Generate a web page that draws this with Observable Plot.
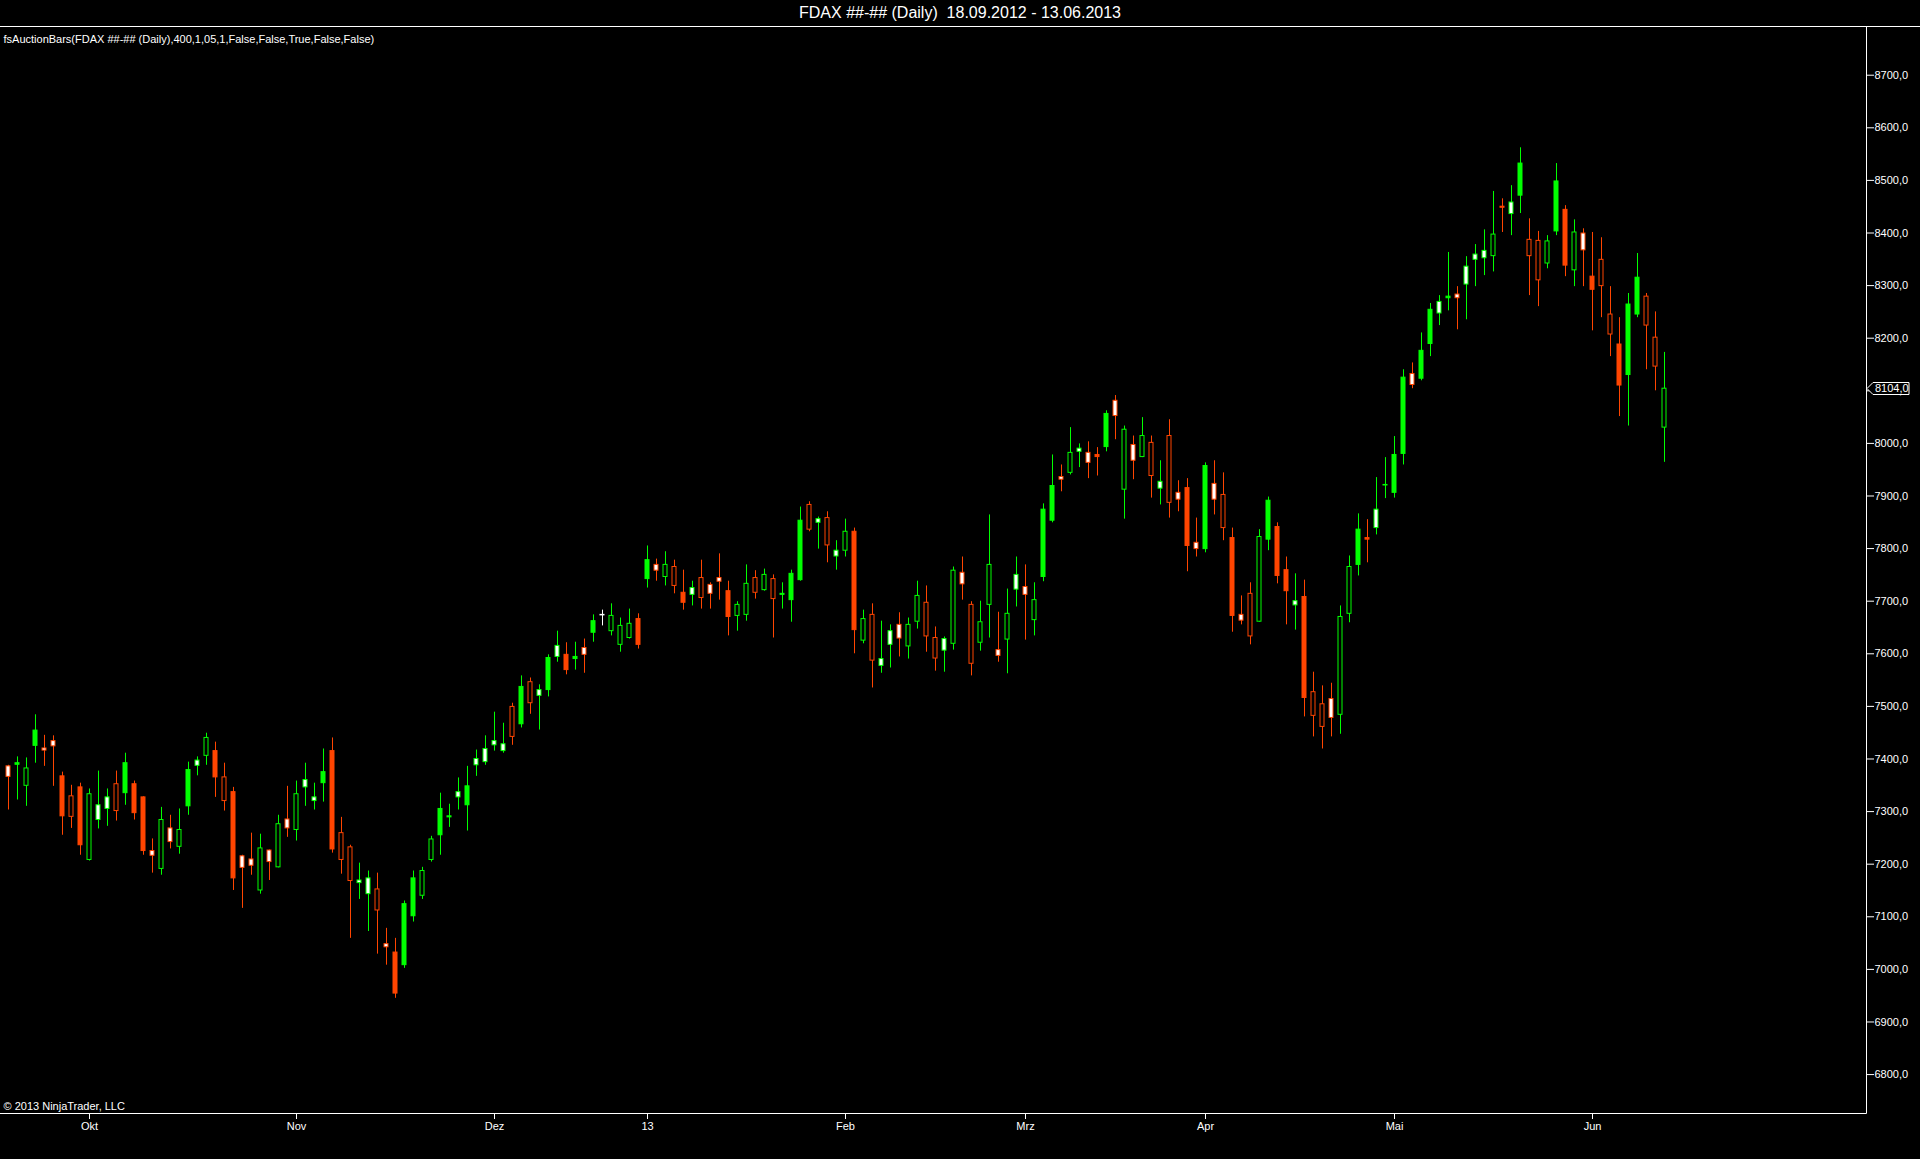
<!DOCTYPE html>
<html><head><meta charset="utf-8">
<script src="https://cdn.jsdelivr.net/npm/d3@7"></script>
<script src="https://cdn.jsdelivr.net/npm/@observablehq/plot@0.6"></script>
<style>
html,body{margin:0;padding:0;background:#000;overflow:hidden;}
#title{height:26px;border-bottom:1px solid #fff;color:#fff;font:16px "Liberation Sans",Arial,sans-serif;text-align:center;line-height:26px;white-space:pre;}
#chart svg{display:block;}
</style></head><body>
<div id="title">FDAX ##-## (Daily)  18.09.2012 - 13.06.2013</div>
<div id="chart"></div>
<script>
// Daily FDAX bars 18.09.2012 - 13.06.2013
const opens = [7386,7389,7349,7425,7420,7434,7367,7329,7346,7208,7284,7305,7352,7335,7352,7327,7225,7191,7268,7233,7310,7387,7406,
7415,7365,7337,7215,7209,7150,7226,7194,7285,7265,7346,7320,7354,7415,7259,7232,7164,7143,7152,7048,7032,7008,7101,
7140,7208,7255,7289,7327,7312,7388,7394,7426,7415,7499,7466,7546,7520,7531,7594,7598,7590,7611,7640,7673,7643,
7617,7630,7666,7742,7769,7746,7765,7716,7712,7744,7731,7744,7719,7672,7674,7744,7721,7742,7712,7702,7740,7883,7849,
7858,7785,7796,7832,7625,7674,7577,7617,7655,7614,7661,7697,7630,7606,7619,7754,7693,7621,7693,7607,7627,7722,7727,
7664,7746,7853,7936,7944,7984,7982,7978,7993,8081,7912,7997,7974,8001,7914,8014,7906,7915,7811,7799,7923,7902,7820,
7674,7714,7661,7817,7841,7759,7692,7708,7527,7504,7514,7484,7676,7769,7820,7839,7920,7906,7980,8132,8123,8189,8247,
8276,8283,8302,8349,8352,8356,8450,8436,8471,8387,8385,8342,8403,8444,8329,8399,8317,8349,8245,8188,8130,8245,8279,8201,8030];
const highs = [7388,7404,7402,7484,7445,7444,7375,7350,7354,7343,7377,7343,7377,7411,7358,7328,7248,7308,7293,7305,7394,7404,7449,
7432,7392,7346,7217,7259,7257,7227,7293,7348,7358,7392,7354,7419,7440,7289,7236,7202,7187,7183,7078,7059,7130,7187,
7194,7253,7335,7314,7364,7386,7417,7444,7489,7468,7506,7558,7554,7541,7598,7643,7621,7622,7628,7674,7683,7695,
7668,7685,7676,7805,7780,7794,7778,7759,7738,7778,7735,7790,7738,7699,7769,7758,7761,7750,7735,7759,7879,7889,7860,
7870,7815,7856,7839,7683,7695,7662,7655,7678,7668,7738,7729,7651,7632,7765,7784,7699,7700,7864,7679,7723,7784,7769,
7735,7885,7978,7959,8030,7999,8003,7992,8062,8091,8033,8014,8049,8014,7967,8045,7929,7933,7858,7963,7967,7944,7839,
7710,7735,7836,7898,7849,7784,7752,7740,7565,7539,7544,7691,7786,7866,7855,7935,7973,8013,8140,8153,8210,8266,8281,
8363,8298,8355,8378,8406,8479,8465,8490,8562,8427,8403,8395,8532,8452,8425,8408,8401,8391,8298,8239,8285,8361,8285,8250,8173];
const lows = [7303,7322,7310,7392,7386,7348,7255,7268,7217,7206,7267,7272,7282,7312,7284,7217,7183,7179,7229,7219,7293,7368,7388,
7327,7301,7150,7116,7179,7143,7169,7193,7251,7244,7310,7303,7318,7221,7181,7059,7133,7072,7029,7008,6945,7002,7090,
7133,7204,7217,7270,7303,7263,7367,7388,7415,7411,7426,7459,7485,7455,7518,7584,7560,7569,7563,7622,7653,7634,
7603,7628,7609,7725,7738,7729,7714,7683,7691,7685,7685,7702,7634,7643,7662,7704,7719,7630,7685,7660,7738,7832,7799,
7773,7759,7784,7600,7619,7535,7563,7573,7594,7590,7647,7603,7567,7565,7607,7702,7558,7605,7630,7584,7562,7689,7626,
7634,7737,7849,7908,7940,7954,7933,7938,7984,8007,7856,7931,7973,7896,7883,7858,7870,7756,7784,7792,7864,7815,7641,
7655,7617,7660,7796,7733,7655,7645,7480,7442,7419,7442,7447,7659,7748,7773,7826,7895,7896,7959,8104,8119,8165,8224,
8252,8216,8235,8298,8319,8326,8401,8395,8437,8281,8260,8332,8395,8317,8298,8298,8214,8239,8165,8051,8033,8239,8140,8100,7964];
const closes = [7366,7392,7382,7454,7416,7424,7291,7290,7236,7333,7312,7327,7301,7392,7297,7225,7216,7284,7242,7265,7379,7397,7440,
7365,7320,7173,7193,7197,7230,7204,7276,7268,7333,7360,7327,7375,7228,7208,7168,7169,7173,7112,7042,6954,7124,7173,
7187,7247,7305,7291,7337,7348,7400,7419,7434,7428,7442,7537,7506,7531,7592,7615,7569,7594,7598,7662,7674,7672,
7653,7657,7617,7778,7758,7769,7729,7697,7725,7706,7714,7737,7670,7693,7733,7716,7750,7704,7714,7752,7853,7836,7856,
7806,7796,7832,7645,7666,7587,7590,7643,7629,7655,7710,7633,7591,7628,7758,7732,7581,7660,7769,7596,7676,7750,7712,
7702,7874,7919,7931,7982,7990,7963,7974,8056,8052,8026,7967,8014,7938,7927,7887,7893,7805,7799,7957,7893,7839,7672,
7663,7633,7822,7891,7748,7719,7700,7516,7482,7461,7478,7670,7765,7836,7817,7874,7921,7978,8125,8111,8176,8254,8269,
8279,8276,8336,8359,8366,8397,8448,8458,8532,8356,8310,8384,8498,8338,8401,8367,8292,8299,8207,8110,8264,8315,8224,8146,8104];
// bar style: colour g/r/w + f (filled), h (hollow), w (white body)
const styles = ["rw","gf","gh","gf","rw","rw","rf","rh","rf","gh","gw","gw","rh","gf","rf","rf","rw","gh","rw","gh","gf","gw","gh",
"rf","rh","rf","rw","rw","gh","rw","gh","rw","gh","gw","gw","gf","rf","rh","rh","gw","gw","rh","rw","rf","gf","gf",
"gh","gh","gf","gf","gw","gf","gw","gw","gw","gw","rh","gf","rh","gw","gf","gw","rf","gf","rw","gf","ww","gh",
"gh","gh","rf","gf","rw","gh","rh","rf","gw","rh","rw","rw","rf","gh","gh","rh","gh","rh","gf","gf","gf","rh","gw",
"rh","gw","gh","rf","gh","rh","gw","gw","rw","gh","gh","rh","rh","gw","gh","rw","rh","gh","gh","rw","gh","gw","rw",
"gh","gf","gf","rw","gh","gw","rw","rf","gf","rw","gh","rw","gh","rh","gw","rh","rw","rf","rw","gf","rw","rh","rf",
"rw","rh","gh","gf","rf","rf","gw","rf","rh","rh","rw","gh","gh","gf","rf","gw","gf","gf","gf","rw","gf","gf","gw",
"gf","rw","gw","gw","gw","gh","rf","gw","gf","rh","rh","gh","gf","rf","gh","rw","rf","rh","rh","rf","gf","gf","rh","rh","gh"];
const yTicks = [6800,6900,7000,7100,7200,7300,7400,7500,7600,7700,7800,7900,8000,8100,8200,8300,8400,8500,8600,8700];
const monthLabels = ["Okt","Nov","Dez","13","Feb","Mrz","Apr","Mai","Jun"];
const monthPos = [9,32,54,71,93,113,133,154,176]; // bar index of the first session of each month
const indicatorLabel = "fsAuctionBars(FDAX ##-## (Daily),400,1,05,1,False,False,True,False,False)";
const copyright = "\u00A9 2013 NinjaTrader, LLC";

const bars = opens.map((o, i) => ({i, o, h: highs[i], l: lows[i], c: closes[i], s: styles[i]}));
const GREEN = "#00ff00", RED = "#ff4500", WHITE = "#ffffff";
const strokeOf = s => s[0] === "g" ? GREEN : s[0] === "r" ? RED : WHITE;
const fillOf = s => s[1] === "f" ? strokeOf(s) : s[1] === "w" ? WHITE : "#000000";
const labelMap = new Map(monthPos.map((p, k) => [p, monthLabels[k]]));
const fmt = d => d.toFixed(1).replace(".", ",");
const lastClose = closes[closes.length - 1];

const frameLines = (index, scales, values, dims) => {
  const g = d3.create("svg:g");
  const xr = dims.width - dims.marginRight, yb = dims.height - dims.marginBottom;
  g.append("path").attr("d", `M${dims.marginLeft},${yb + 0.5}H${xr + 0.5}V${dims.marginTop}`)
    .attr("fill", "none").attr("stroke", "#fff").attr("stroke-width", 1);
  return g.node();
};
const priceMarker = (index, scales, values, dims) => {
  const g = d3.create("svg:g");
  const xa = dims.width - dims.marginRight, yc = Math.round(scales.y(lastClose)) + 0.5;
  g.append("path").attr("d", `M${xa + 1},${yc}L${xa + 7},${yc - 6}H${xa + 43}V${yc + 6}H${xa + 7}Z`)
    .attr("fill", "#000").attr("stroke", "#fff").attr("stroke-width", 1);
  g.append("text").attr("x", xa + 9).attr("y", yc).attr("dy", "0.35em")
    .attr("text-anchor", "start").attr("fill", "#fff").attr("font-size", 11).text(fmt(lastClose));
  return g.node();
};

const chart = Plot.plot({
  width: 1920, height: 1132,
  marginLeft: 0, marginRight: 54, marginTop: 0, marginBottom: 46,
  style: {background: "#000", color: "#fff", fontFamily: "'Liberation Sans', Arial, sans-serif", fontSize: "11px"},
  x: {type: "linear", domain: [-8/9, 1858/9]},
  y: {domain: [6726, 8790.7]},
  color: {type: "identity"},
  marks: [
    Plot.ruleX(bars, {x: "i", y1: "l", y2: "h", stroke: d => strokeOf(d.s), strokeWidth: 1}),
    Plot.rect(bars, {x1: d => d.i - 2/9, x2: d => d.i + 2/9, y1: "o", y2: "c",
      fill: d => fillOf(d.s), stroke: d => strokeOf(d.s), strokeWidth: 1}),
    Plot.axisY({anchor: "right", ticks: yTicks, tickFormat: fmt, tickSize: 7, tickPadding: 1, fontSize: 11, label: null}),
    Plot.axisX({ticks: monthPos, tickFormat: d => labelMap.get(d), tickSize: 6, tickPadding: 3, fontSize: 11, label: null}),
    frameLines,
    Plot.text([indicatorLabel], {frameAnchor: "top-left", text: d => d, dx: 3, dy: 12, textAnchor: "start", lineAnchor: "middle", fill: "#fff", fontSize: 11}),
    Plot.text([copyright], {frameAnchor: "bottom-left", text: d => d, dx: 3, dy: -7, textAnchor: "start", lineAnchor: "middle", fill: "#fff", fontSize: 11}),
    priceMarker
  ]
});
document.getElementById("chart").appendChild(chart);
</script>
</body></html>
